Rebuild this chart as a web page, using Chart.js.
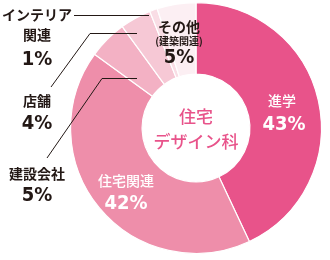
<!DOCTYPE html>
<html><head><meta charset="utf-8">
<script src="https://cdn.jsdelivr.net/npm/chart.js@4"></script>
<style>html,body{margin:0;padding:0;background:#fff}#wrap{width:330px;height:260px;position:relative}</style>
</head><body><div id="wrap"><canvas id="c" width="330" height="260"></canvas></div>
<script>
const categories = ['進学', '住宅関連', '建設会社', '店舗', 'インテリア関連', 'その他'];
const values = [43, 42, 5, 4, 1, 5];
const percentLabels = ['43%', '42%', '5%', '4%', '1%', '5%'];
const colors = ['#E8538A', '#EE8EAA', '#F3B1C4', '#F6C8D5', '#F9DDE5', '#FCEFF3'];
const centerTitle = ['住宅', 'デザイン科'];

const JP = '"Noto Sans CJK JP", sans-serif';
const NUM = '"DejaVu Sans Condensed", "DejaVu Sans", sans-serif';

const labelPlugin = {
  id: 'labels',
  afterDraw(chart) {
    const ctx = chart.ctx;
    const arc = chart.getDatasetMeta(0).data[0];
    const cx = arc.x, cy = arc.y;
    ctx.save();
    ctx.textAlign = 'center';
    ctx.textBaseline = 'middle';
    function txt(s, x, y, font, color) { ctx.font = font; ctx.fillStyle = color; ctx.fillText(s, x, y); }
    // center
    txt(centerTitle[0], cx, cy - 11, '500 17px ' + JP, '#E8538A');
    txt(centerTitle[1], cx, cy + 14, '500 17px ' + JP, '#E8538A');
    // inside slices
    txt(categories[0], cx + 86, cy - 27, '500 14px ' + JP, '#fff');
    txt(percentLabels[0], cx + 88, cy - 3, 'bold 20px ' + NUM, '#fff');
    txt(categories[1], cx - 70, cy + 53, '500 14px ' + JP, '#fff');
    txt(percentLabels[1], cx - 70, cy + 76, 'bold 20px ' + NUM, '#fff');
    // その他
    txt('その他', cx - 17, cy - 101, 'bold 14px ' + JP, '#231815');
    txt('(建築関連)', cx - 17, cy - 87, 'bold 10px ' + JP, '#231815');
    txt(percentLabels[5], cx - 17, cy - 70, 'bold 20px ' + NUM, '#231815');
    // left column
    const lx = 37;
    txt('インテリア', lx, 15, 'bold 14px ' + JP, '#231815');
    txt('関連', lx, 35, 'bold 14px ' + JP, '#231815');
    txt(percentLabels[4], lx, 60, 'bold 20px ' + NUM, '#231815');
    txt(categories[3], lx, 101, 'bold 14px ' + JP, '#231815');
    txt(percentLabels[3], lx, 124, 'bold 20px ' + NUM, '#231815');
    txt(categories[2], lx, 174, 'bold 14px ' + JP, '#231815');
    txt(percentLabels[2], lx, 196, 'bold 20px ' + NUM, '#231815');
    // leader lines
    ctx.strokeStyle = '#231815';
    ctx.lineWidth = 1;
    ctx.beginPath();
    ctx.moveTo(74, 15.5); ctx.lineTo(cx - 47, 15.5);
    ctx.moveTo(cx - 59, 33.5); ctx.lineTo(90, 33.5); ctx.lineTo(51, 87);
    ctx.moveTo(cx - 59, 78.5); ctx.lineTo(102, 78.5); ctx.lineTo(47, 158);
    ctx.stroke();
    ctx.restore();
  }
};

new Chart(document.getElementById('c'), {
  type: 'doughnut',
  data: { labels: categories, datasets: [{ data: values, backgroundColor: colors, borderColor: '#fff', borderWidth: 1.2 }] },
  options: {
    responsive: false, animation: false, cutout: '43%',
    layout: { padding: { left: 68, right: 6, top: 2, bottom: 6 } },
    plugins: { legend: { display: false }, tooltip: { enabled: false } }
  },
  plugins: [labelPlugin]
});
</script></body></html>
